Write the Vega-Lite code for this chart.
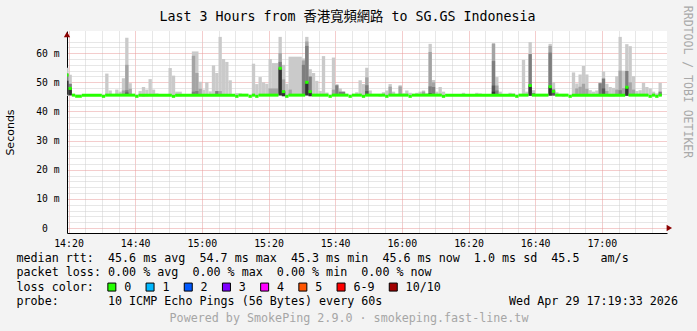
{
  "$schema": "https://vega.github.io/schema/vega-lite/v6.json",
  "width": 600,
  "height": 202,
  "autosize": {"type": "none"},
  "padding": {"left": 67, "top": 31, "right": 30, "bottom": 98},
  "background": "#f3f3f3",
  "config": {"view": {"fill": "white", "stroke": null}, "font": "DejaVu Sans Mono"},
  "resolve": {"axis": {"x": "independent", "y": "independent"}},
  "datasets": {
    "smoke": [
      {"t":"2026-04-29T14:19:33","e":"2026-04-29T14:20","lo":45.3,"hi":55.0,"s":1},
      {"t":"2026-04-29T14:20","e":"2026-04-29T14:21","lo":45.3,"hi":52.6,"s":1},
      {"t":"2026-04-29T14:31","e":"2026-04-29T14:32","lo":45.4,"hi":53.0,"s":1},
      {"t":"2026-04-29T14:32","e":"2026-04-29T14:33","lo":45.4,"hi":47.2,"s":1},
      {"t":"2026-04-29T14:34","e":"2026-04-29T14:35","lo":45.4,"hi":47.5,"s":1},
      {"t":"2026-04-29T14:35","e":"2026-04-29T14:36","lo":45.4,"hi":46.8,"s":1},
      {"t":"2026-04-29T14:36","e":"2026-04-29T14:37","lo":45.4,"hi":51.4,"s":1},
      {"t":"2026-04-29T14:37","e":"2026-04-29T14:38","lo":45.3,"hi":65.3,"s":1},
      {"t":"2026-04-29T14:38","e":"2026-04-29T14:39","lo":45.4,"hi":49.7,"s":1},
      {"t":"2026-04-29T14:41","e":"2026-04-29T14:42","lo":45.4,"hi":47.0,"s":1},
      {"t":"2026-04-29T14:42","e":"2026-04-29T14:43","lo":45.1,"hi":48.4,"s":1},
      {"t":"2026-04-29T14:43","e":"2026-04-29T14:44","lo":45.2,"hi":47.5,"s":1},
      {"t":"2026-04-29T14:44","e":"2026-04-29T14:45","lo":45.4,"hi":51.1,"s":1},
      {"t":"2026-04-29T14:45","e":"2026-04-29T14:46","lo":45.4,"hi":47.5,"s":1},
      {"t":"2026-04-29T14:46","e":"2026-04-29T14:47","lo":45.4,"hi":46.2,"s":1},
      {"t":"2026-04-29T14:50","e":"2026-04-29T14:51","lo":45.4,"hi":54.9,"s":1},
      {"t":"2026-04-29T14:51","e":"2026-04-29T14:52","lo":45.2,"hi":52.3,"s":1},
      {"t":"2026-04-29T14:52","e":"2026-04-29T14:54","lo":45.2,"hi":46.8,"s":1},
      {"t":"2026-04-29T14:57","e":"2026-04-29T14:59","lo":45.4,"hi":60.6,"s":1},
      {"t":"2026-04-29T14:59","e":"2026-04-29T15:00","lo":45.4,"hi":50.2,"s":1},
      {"t":"2026-04-29T15:00","e":"2026-04-29T15:01","lo":45.4,"hi":47.5,"s":1},
      {"t":"2026-04-29T15:01","e":"2026-04-29T15:02","lo":45.4,"hi":50.0,"s":1},
      {"t":"2026-04-29T15:02","e":"2026-04-29T15:03","lo":45.4,"hi":46.9,"s":1},
      {"t":"2026-04-29T15:03","e":"2026-04-29T15:04","lo":45.3,"hi":55.8,"s":1},
      {"t":"2026-04-29T15:04","e":"2026-04-29T15:05","lo":45.3,"hi":53.2,"s":1},
      {"t":"2026-04-29T15:05","e":"2026-04-29T15:06","lo":45.3,"hi":65.6,"s":1},
      {"t":"2026-04-29T15:06","e":"2026-04-29T15:07","lo":45.3,"hi":58.0,"s":1},
      {"t":"2026-04-29T15:07","e":"2026-04-29T15:08","lo":45.4,"hi":57.0,"s":1},
      {"t":"2026-04-29T15:08","e":"2026-04-29T15:09","lo":45.4,"hi":50.7,"s":1},
      {"t":"2026-04-29T15:10","e":"2026-04-29T15:11","lo":45.4,"hi":46.3,"s":1},
      {"t":"2026-04-29T15:11","e":"2026-04-29T15:12","lo":45.3,"hi":46.2,"s":1},
      {"t":"2026-04-29T15:15","e":"2026-04-29T15:16","lo":45.4,"hi":56.4,"s":1},
      {"t":"2026-04-29T15:16","e":"2026-04-29T15:17","lo":45.4,"hi":49.4,"s":1},
      {"t":"2026-04-29T15:17","e":"2026-04-29T15:18","lo":45.4,"hi":51.8,"s":1},
      {"t":"2026-04-29T15:18","e":"2026-04-29T15:19","lo":45.4,"hi":50.0,"s":1},
      {"t":"2026-04-29T15:19","e":"2026-04-29T15:20","lo":45.4,"hi":49.5,"s":1},
      {"t":"2026-04-29T15:20","e":"2026-04-29T15:21","lo":45.4,"hi":58.0,"s":1},
      {"t":"2026-04-29T15:21","e":"2026-04-29T15:23","lo":45.4,"hi":56.6,"s":1},
      {"t":"2026-04-29T15:23","e":"2026-04-29T15:24","lo":45.3,"hi":65.6,"s":1},
      {"t":"2026-04-29T15:24","e":"2026-04-29T15:25","lo":45.3,"hi":56.0,"s":1},
      {"t":"2026-04-29T15:25","e":"2026-04-29T15:26","lo":45.4,"hi":49.5,"s":1},
      {"t":"2026-04-29T15:26","e":"2026-04-29T15:30","lo":45.4,"hi":58.8,"s":1},
      {"t":"2026-04-29T15:30","e":"2026-04-29T15:31","lo":45.4,"hi":58.2,"s":1},
      {"t":"2026-04-29T15:31","e":"2026-04-29T15:32","lo":45.3,"hi":65.6,"s":1},
      {"t":"2026-04-29T15:32","e":"2026-04-29T15:33","lo":45.3,"hi":54.5,"s":1},
      {"t":"2026-04-29T15:33","e":"2026-04-29T15:34","lo":45.4,"hi":53.2,"s":1},
      {"t":"2026-04-29T15:34","e":"2026-04-29T15:35","lo":45.4,"hi":50.5,"s":1},
      {"t":"2026-04-29T15:35","e":"2026-04-29T15:36","lo":45.4,"hi":47.0,"s":1},
      {"t":"2026-04-29T15:36","e":"2026-04-29T15:37","lo":45.4,"hi":59.0,"s":1},
      {"t":"2026-04-29T15:37","e":"2026-04-29T15:38","lo":45.4,"hi":46.5,"s":1},
      {"t":"2026-04-29T15:39","e":"2026-04-29T15:40","lo":45.4,"hi":58.5,"s":1},
      {"t":"2026-04-29T15:40","e":"2026-04-29T15:41","lo":45.4,"hi":49.4,"s":1},
      {"t":"2026-04-29T15:41","e":"2026-04-29T15:42","lo":45.4,"hi":47.9,"s":1},
      {"t":"2026-04-29T15:42","e":"2026-04-29T15:43","lo":45.4,"hi":46.8,"s":1},
      {"t":"2026-04-29T15:46","e":"2026-04-29T15:47","lo":45.4,"hi":46.6,"s":1},
      {"t":"2026-04-29T15:47","e":"2026-04-29T15:48","lo":45.4,"hi":50.7,"s":1},
      {"t":"2026-04-29T15:48","e":"2026-04-29T15:49","lo":45.2,"hi":49.4,"s":1},
      {"t":"2026-04-29T15:49","e":"2026-04-29T15:50","lo":45.3,"hi":55.0,"s":1},
      {"t":"2026-04-29T15:50","e":"2026-04-29T15:51","lo":45.3,"hi":47.2,"s":1},
      {"t":"2026-04-29T15:53","e":"2026-04-29T15:54","lo":45.1,"hi":45.8,"s":1},
      {"t":"2026-04-29T15:54","e":"2026-04-29T15:55","lo":45.3,"hi":46.6,"s":1},
      {"t":"2026-04-29T15:55","e":"2026-04-29T15:56","lo":45.3,"hi":47.2,"s":1},
      {"t":"2026-04-29T15:56","e":"2026-04-29T15:57","lo":45.3,"hi":49.4,"s":1},
      {"t":"2026-04-29T15:57","e":"2026-04-29T15:58","lo":45.3,"hi":46.8,"s":1},
      {"t":"2026-04-29T15:59","e":"2026-04-29T16:00","lo":45.3,"hi":49.0,"s":1},
      {"t":"2026-04-29T16:00","e":"2026-04-29T16:01","lo":45.3,"hi":46.2,"s":1},
      {"t":"2026-04-29T16:01","e":"2026-04-29T16:02","lo":45.3,"hi":47.2,"s":1},
      {"t":"2026-04-29T16:02","e":"2026-04-29T16:03","lo":45.3,"hi":46.4,"s":1},
      {"t":"2026-04-29T16:04","e":"2026-04-29T16:05","lo":45.3,"hi":46.4,"s":1},
      {"t":"2026-04-29T16:05","e":"2026-04-29T16:06","lo":45.3,"hi":46.8,"s":1},
      {"t":"2026-04-29T16:06","e":"2026-04-29T16:07","lo":45.3,"hi":47.2,"s":1},
      {"t":"2026-04-29T16:07","e":"2026-04-29T16:08","lo":45.3,"hi":46.2,"s":1},
      {"t":"2026-04-29T16:08","e":"2026-04-29T16:09","lo":45.3,"hi":63.2,"s":1},
      {"t":"2026-04-29T16:09","e":"2026-04-29T16:10","lo":45.3,"hi":50.8,"s":1},
      {"t":"2026-04-29T16:10","e":"2026-04-29T16:11","lo":45.3,"hi":46.8,"s":1},
      {"t":"2026-04-29T16:11","e":"2026-04-29T16:12","lo":45.3,"hi":48.4,"s":1},
      {"t":"2026-04-29T16:12","e":"2026-04-29T16:13","lo":45.2,"hi":46.8,"s":1},
      {"t":"2026-04-29T16:18","e":"2026-04-29T16:19","lo":45.3,"hi":46.4,"s":1},
      {"t":"2026-04-29T16:22","e":"2026-04-29T16:23","lo":45.3,"hi":46.4,"s":1},
      {"t":"2026-04-29T16:23","e":"2026-04-29T16:24","lo":45.3,"hi":46.2,"s":1},
      {"t":"2026-04-29T16:27","e":"2026-04-29T16:28","lo":45.3,"hi":63.5,"s":1},
      {"t":"2026-04-29T16:28","e":"2026-04-29T16:29","lo":45.3,"hi":51.8,"s":1},
      {"t":"2026-04-29T16:29","e":"2026-04-29T16:30","lo":45.3,"hi":46.8,"s":1},
      {"t":"2026-04-29T16:32","e":"2026-04-29T16:33","lo":45.3,"hi":46.4,"s":1},
      {"t":"2026-04-29T16:33","e":"2026-04-29T16:34","lo":45.3,"hi":46.2,"s":1},
      {"t":"2026-04-29T16:36","e":"2026-04-29T16:37","lo":45.3,"hi":57.7,"s":1},
      {"t":"2026-04-29T16:37","e":"2026-04-29T16:38","lo":45.3,"hi":46.8,"s":1},
      {"t":"2026-04-29T16:38","e":"2026-04-29T16:39","lo":45.3,"hi":63.8,"s":1},
      {"t":"2026-04-29T16:39","e":"2026-04-29T16:40","lo":45.3,"hi":47.3,"s":1},
      {"t":"2026-04-29T16:44","e":"2026-04-29T16:45","lo":45.3,"hi":63.2,"s":1},
      {"t":"2026-04-29T16:45","e":"2026-04-29T16:46","lo":45.3,"hi":50.0,"s":1},
      {"t":"2026-04-29T16:46","e":"2026-04-29T16:47","lo":45.3,"hi":46.6,"s":1},
      {"t":"2026-04-29T16:48","e":"2026-04-29T16:49","lo":45.1,"hi":45.8,"s":1},
      {"t":"2026-04-29T16:51","e":"2026-04-29T16:52","lo":45.3,"hi":53.4,"s":1},
      {"t":"2026-04-29T16:52","e":"2026-04-29T16:53","lo":45.3,"hi":49.6,"s":1},
      {"t":"2026-04-29T16:53","e":"2026-04-29T16:54","lo":45.3,"hi":52.7,"s":1},
      {"t":"2026-04-29T16:54","e":"2026-04-29T16:55","lo":45.3,"hi":55.6,"s":1},
      {"t":"2026-04-29T16:55","e":"2026-04-29T16:56","lo":45.3,"hi":52.7,"s":1},
      {"t":"2026-04-29T16:56","e":"2026-04-29T16:57","lo":45.3,"hi":47.3,"s":1},
      {"t":"2026-04-29T16:57","e":"2026-04-29T16:58","lo":45.3,"hi":46.8,"s":1},
      {"t":"2026-04-29T16:58","e":"2026-04-29T16:59","lo":45.3,"hi":47.2,"s":1},
      {"t":"2026-04-29T16:59","e":"2026-04-29T17:00","lo":45.3,"hi":50.0,"s":1},
      {"t":"2026-04-29T17:00","e":"2026-04-29T17:01","lo":45.3,"hi":53.7,"s":1},
      {"t":"2026-04-29T17:01","e":"2026-04-29T17:02","lo":45.3,"hi":49.5,"s":1},
      {"t":"2026-04-29T17:02","e":"2026-04-29T17:03","lo":45.2,"hi":48.4,"s":1},
      {"t":"2026-04-29T17:03","e":"2026-04-29T17:04","lo":45.2,"hi":48.1,"s":1},
      {"t":"2026-04-29T17:04","e":"2026-04-29T17:05","lo":45.3,"hi":52.1,"s":1},
      {"t":"2026-04-29T17:05","e":"2026-04-29T17:06","lo":45.3,"hi":65.6,"s":1},
      {"t":"2026-04-29T17:06","e":"2026-04-29T17:07","lo":45.3,"hi":54.0,"s":1},
      {"t":"2026-04-29T17:07","e":"2026-04-29T17:08","lo":45.3,"hi":63.1,"s":1},
      {"t":"2026-04-29T17:08","e":"2026-04-29T17:09","lo":45.3,"hi":62.4,"s":1},
      {"t":"2026-04-29T17:09","e":"2026-04-29T17:10","lo":45.3,"hi":52.1,"s":1},
      {"t":"2026-04-29T17:10","e":"2026-04-29T17:11","lo":45.3,"hi":47.0,"s":1},
      {"t":"2026-04-29T17:11","e":"2026-04-29T17:12","lo":45.3,"hi":47.3,"s":1},
      {"t":"2026-04-29T17:12","e":"2026-04-29T17:13","lo":45.3,"hi":49.8,"s":1},
      {"t":"2026-04-29T17:13","e":"2026-04-29T17:14","lo":45.3,"hi":48.4,"s":1},
      {"t":"2026-04-29T17:14","e":"2026-04-29T17:15","lo":45.3,"hi":47.9,"s":1},
      {"t":"2026-04-29T17:15","e":"2026-04-29T17:16","lo":45.3,"hi":46.8,"s":1},
      {"t":"2026-04-29T17:16","e":"2026-04-29T17:17","lo":45.3,"hi":46.2,"s":1},
      {"t":"2026-04-29T17:17","e":"2026-04-29T17:18","lo":45.3,"hi":49.8,"s":1},
      {"t":"2026-04-29T14:36","e":"2026-04-29T14:37","lo":45.5,"hi":47.2,"s":2},
      {"t":"2026-04-29T14:37","e":"2026-04-29T14:38","lo":45.4,"hi":56.0,"s":2},
      {"t":"2026-04-29T14:38","e":"2026-04-29T14:39","lo":45.5,"hi":47.8,"s":2},
      {"t":"2026-04-29T14:57","e":"2026-04-29T14:58","lo":45.5,"hi":59.1,"s":2},
      {"t":"2026-04-29T14:58","e":"2026-04-29T14:59","lo":45.5,"hi":53.2,"s":2},
      {"t":"2026-04-29T14:59","e":"2026-04-29T15:00","lo":45.5,"hi":47.8,"s":2},
      {"t":"2026-04-29T15:05","e":"2026-04-29T15:06","lo":45.9,"hi":47.0,"s":2},
      {"t":"2026-04-29T15:20","e":"2026-04-29T15:23","lo":45.6,"hi":47.9,"s":2},
      {"t":"2026-04-29T15:23","e":"2026-04-29T15:24","lo":45.4,"hi":60.0,"s":2},
      {"t":"2026-04-29T15:24","e":"2026-04-29T15:25","lo":45.4,"hi":51.0,"s":2},
      {"t":"2026-04-29T15:26","e":"2026-04-29T15:27","lo":45.5,"hi":47.5,"s":2},
      {"t":"2026-04-29T15:30","e":"2026-04-29T15:31","lo":45.5,"hi":57.5,"s":2},
      {"t":"2026-04-29T15:31","e":"2026-04-29T15:32","lo":45.4,"hi":64.0,"s":2},
      {"t":"2026-04-29T15:39","e":"2026-04-29T15:40","lo":45.5,"hi":47.5,"s":2},
      {"t":"2026-04-29T15:49","e":"2026-04-29T15:50","lo":45.4,"hi":51.7,"s":2},
      {"t":"2026-04-29T15:56","e":"2026-04-29T15:57","lo":45.5,"hi":48.5,"s":2},
      {"t":"2026-04-29T15:59","e":"2026-04-29T16:00","lo":45.5,"hi":48.6,"s":2},
      {"t":"2026-04-29T16:06","e":"2026-04-29T16:07","lo":45.4,"hi":46.8,"s":2},
      {"t":"2026-04-29T16:08","e":"2026-04-29T16:09","lo":45.4,"hi":60.4,"s":2},
      {"t":"2026-04-29T16:09","e":"2026-04-29T16:10","lo":45.4,"hi":50.0,"s":2},
      {"t":"2026-04-29T16:27","e":"2026-04-29T16:28","lo":45.4,"hi":63.2,"s":2},
      {"t":"2026-04-29T16:28","e":"2026-04-29T16:29","lo":45.4,"hi":48.9,"s":2},
      {"t":"2026-04-29T16:44","e":"2026-04-29T16:45","lo":45.4,"hi":62.5,"s":2},
      {"t":"2026-04-29T16:45","e":"2026-04-29T16:46","lo":45.4,"hi":47.8,"s":2},
      {"t":"2026-04-29T16:52","e":"2026-04-29T16:53","lo":45.4,"hi":47.9,"s":2},
      {"t":"2026-04-29T16:53","e":"2026-04-29T16:54","lo":45.4,"hi":48.5,"s":2},
      {"t":"2026-04-29T16:54","e":"2026-04-29T16:55","lo":45.4,"hi":49.5,"s":2},
      {"t":"2026-04-29T16:55","e":"2026-04-29T16:56","lo":45.4,"hi":47.8,"s":2},
      {"t":"2026-04-29T17:01","e":"2026-04-29T17:02","lo":45.4,"hi":47.0,"s":2},
      {"t":"2026-04-29T17:04","e":"2026-04-29T17:05","lo":45.4,"hi":47.5,"s":2},
      {"t":"2026-04-29T17:05","e":"2026-04-29T17:06","lo":45.4,"hi":54.0,"s":2},
      {"t":"2026-04-29T17:06","e":"2026-04-29T17:07","lo":45.4,"hi":48.0,"s":2},
      {"t":"2026-04-29T17:08","e":"2026-04-29T17:09","lo":45.4,"hi":50.0,"s":2},
      {"t":"2026-04-29T17:09","e":"2026-04-29T17:10","lo":45.4,"hi":47.5,"s":2},
      {"t":"2026-04-29T14:19:33","e":"2026-04-29T14:20","lo":45.5,"hi":53.0,"s":3},
      {"t":"2026-04-29T14:20","e":"2026-04-29T14:21","lo":45.5,"hi":49.5,"s":3},
      {"t":"2026-04-29T14:37","e":"2026-04-29T14:38","lo":45.5,"hi":47.3,"s":3},
      {"t":"2026-04-29T14:57","e":"2026-04-29T14:58","lo":45.6,"hi":46.8,"s":3},
      {"t":"2026-04-29T14:58","e":"2026-04-29T14:59","lo":45.6,"hi":47.0,"s":3},
      {"t":"2026-04-29T15:04","e":"2026-04-29T15:05","lo":45.9,"hi":47.0,"s":3},
      {"t":"2026-04-29T15:23","e":"2026-04-29T15:24","lo":45.5,"hi":57.0,"s":3},
      {"t":"2026-04-29T15:30","e":"2026-04-29T15:31","lo":45.6,"hi":56.0,"s":3},
      {"t":"2026-04-29T15:31","e":"2026-04-29T15:32","lo":45.5,"hi":62.5,"s":3},
      {"t":"2026-04-29T15:32","e":"2026-04-29T15:33","lo":45.4,"hi":52.0,"s":3},
      {"t":"2026-04-29T15:40","e":"2026-04-29T15:41","lo":45.5,"hi":49.0,"s":3},
      {"t":"2026-04-29T15:41","e":"2026-04-29T15:43","lo":45.5,"hi":46.8,"s":3},
      {"t":"2026-04-29T15:49","e":"2026-04-29T15:50","lo":45.5,"hi":49.0,"s":3},
      {"t":"2026-04-29T16:08","e":"2026-04-29T16:09","lo":45.5,"hi":48.6,"s":3},
      {"t":"2026-04-29T16:09","e":"2026-04-29T16:10","lo":45.5,"hi":48.4,"s":3},
      {"t":"2026-04-29T16:27","e":"2026-04-29T16:28","lo":45.5,"hi":57.3,"s":3},
      {"t":"2026-04-29T16:28","e":"2026-04-29T16:29","lo":45.5,"hi":47.2,"s":3},
      {"t":"2026-04-29T16:38","e":"2026-04-29T16:39","lo":45.4,"hi":59.7,"s":3},
      {"t":"2026-04-29T16:39","e":"2026-04-29T16:40","lo":45.4,"hi":46.3,"s":3},
      {"t":"2026-04-29T16:44","e":"2026-04-29T16:45","lo":45.4,"hi":60.2,"s":3},
      {"t":"2026-04-29T16:59","e":"2026-04-29T17:00","lo":45.4,"hi":49.7,"s":3},
      {"t":"2026-04-29T17:00","e":"2026-04-29T17:01","lo":45.4,"hi":51.3,"s":3},
      {"t":"2026-04-29T17:05","e":"2026-04-29T17:06","lo":45.5,"hi":47.3,"s":3},
      {"t":"2026-04-29T17:07","e":"2026-04-29T17:08","lo":45.4,"hi":53.9,"s":3},
      {"t":"2026-04-29T17:17","e":"2026-04-29T17:18","lo":45.4,"hi":46.8,"s":3},
      {"t":"2026-04-29T14:37","e":"2026-04-29T14:38","lo":45.6,"hi":46.5,"s":4},
      {"t":"2026-04-29T15:24","e":"2026-04-29T15:25","lo":45.5,"hi":47.0,"s":4},
      {"t":"2026-04-29T15:49","e":"2026-04-29T15:50","lo":45.6,"hi":47.0,"s":4},
      {"t":"2026-04-29T16:27","e":"2026-04-29T16:28","lo":45.5,"hi":48.9,"s":4},
      {"t":"2026-04-29T16:45","e":"2026-04-29T16:46","lo":45.5,"hi":47.0,"s":4},
      {"t":"2026-04-29T17:00","e":"2026-04-29T17:01","lo":45.5,"hi":47.9,"s":4},
      {"t":"2026-04-29T14:19:33","e":"2026-04-29T14:20","lo":45.8,"hi":50.5,"s":5},
      {"t":"2026-04-29T14:20","e":"2026-04-29T14:21","lo":45.6,"hi":48.0,"s":5},
      {"t":"2026-04-29T15:23","e":"2026-04-29T15:24","lo":45.6,"hi":54.8,"s":5},
      {"t":"2026-04-29T15:24","e":"2026-04-29T15:25","lo":45.2,"hi":46.8,"s":5},
      {"t":"2026-04-29T15:31","e":"2026-04-29T15:32","lo":45.6,"hi":50.0,"s":5},
      {"t":"2026-04-29T15:32","e":"2026-04-29T15:33","lo":45.2,"hi":46.8,"s":5},
      {"t":"2026-04-29T16:08","e":"2026-04-29T16:09","lo":45.6,"hi":46.2,"s":5},
      {"t":"2026-04-29T16:27","e":"2026-04-29T16:28","lo":45.5,"hi":46.8,"s":5},
      {"t":"2026-04-29T16:38","e":"2026-04-29T16:39","lo":45.4,"hi":48.9,"s":5},
      {"t":"2026-04-29T16:44","e":"2026-04-29T16:45","lo":45.5,"hi":48.5,"s":5},
      {"t":"2026-04-29T17:07","e":"2026-04-29T17:08","lo":45.4,"hi":48.3,"s":5}
    ],
    "med": [
      {"t":"2026-04-29T14:19:33","e":"2026-04-29T14:20","m":52.5,"loss":"0"},
      {"t":"2026-04-29T14:20","e":"2026-04-29T14:21","m":47.9,"loss":"0"},
      {"t":"2026-04-29T14:21","e":"2026-04-29T14:22","m":45.6,"loss":"0"},
      {"t":"2026-04-29T14:22","e":"2026-04-29T14:24","m":45.2,"loss":"0"},
      {"t":"2026-04-29T14:24","e":"2026-04-29T14:30","m":45.6,"loss":"0"},
      {"t":"2026-04-29T14:30","e":"2026-04-29T14:31","m":45.2,"loss":"0"},
      {"t":"2026-04-29T14:31","e":"2026-04-29T14:40","m":45.6,"loss":"0"},
      {"t":"2026-04-29T14:40","e":"2026-04-29T14:41","m":45.2,"loss":"0"},
      {"t":"2026-04-29T14:41","e":"2026-04-29T14:51","m":45.6,"loss":"0"},
      {"t":"2026-04-29T14:51","e":"2026-04-29T14:52","m":45.2,"loss":"0"},
      {"t":"2026-04-29T14:52","e":"2026-04-29T15:10","m":45.6,"loss":"0"},
      {"t":"2026-04-29T15:10","e":"2026-04-29T15:11","m":45.2,"loss":"0"},
      {"t":"2026-04-29T15:11","e":"2026-04-29T15:14","m":45.6,"loss":"0"},
      {"t":"2026-04-29T15:14","e":"2026-04-29T15:15","m":45.2,"loss":"0"},
      {"t":"2026-04-29T15:15","e":"2026-04-29T15:16","m":45.6,"loss":"0"},
      {"t":"2026-04-29T15:16","e":"2026-04-29T15:17","m":45.2,"loss":"0"},
      {"t":"2026-04-29T15:17","e":"2026-04-29T15:23","m":45.6,"loss":"0"},
      {"t":"2026-04-29T15:23","e":"2026-04-29T15:24","m":54.8,"loss":"0"},
      {"t":"2026-04-29T15:24","e":"2026-04-29T15:25","m":46.8,"loss":"0"},
      {"t":"2026-04-29T15:25","e":"2026-04-29T15:26","m":45.2,"loss":"0"},
      {"t":"2026-04-29T15:26","e":"2026-04-29T15:31","m":45.6,"loss":"0"},
      {"t":"2026-04-29T15:31","e":"2026-04-29T15:32","m":50.0,"loss":"0"},
      {"t":"2026-04-29T15:32","e":"2026-04-29T15:33","m":46.8,"loss":"0"},
      {"t":"2026-04-29T15:33","e":"2026-04-29T15:38","m":45.6,"loss":"0"},
      {"t":"2026-04-29T15:38","e":"2026-04-29T15:39","m":45.2,"loss":"0"},
      {"t":"2026-04-29T15:39","e":"2026-04-29T15:44","m":45.6,"loss":"0"},
      {"t":"2026-04-29T15:44","e":"2026-04-29T15:45","m":45.2,"loss":"0"},
      {"t":"2026-04-29T15:45","e":"2026-04-29T15:48","m":45.6,"loss":"0"},
      {"t":"2026-04-29T15:48","e":"2026-04-29T15:49","m":45.2,"loss":"0"},
      {"t":"2026-04-29T15:49","e":"2026-04-29T15:55","m":45.6,"loss":"0"},
      {"t":"2026-04-29T15:55","e":"2026-04-29T15:56","m":45.2,"loss":"0"},
      {"t":"2026-04-29T15:56","e":"2026-04-29T16:02","m":45.6,"loss":"0"},
      {"t":"2026-04-29T16:02","e":"2026-04-29T16:03","m":45.2,"loss":"0"},
      {"t":"2026-04-29T16:03","e":"2026-04-29T16:12","m":45.6,"loss":"0"},
      {"t":"2026-04-29T16:12","e":"2026-04-29T16:13","m":45.2,"loss":"0"},
      {"t":"2026-04-29T16:13","e":"2026-04-29T16:34","m":45.6,"loss":"0"},
      {"t":"2026-04-29T16:34","e":"2026-04-29T16:35","m":45.2,"loss":"0"},
      {"t":"2026-04-29T16:35","e":"2026-04-29T16:38","m":45.6,"loss":"0"},
      {"t":"2026-04-29T16:38","e":"2026-04-29T16:39","m":48.9,"loss":"0"},
      {"t":"2026-04-29T16:39","e":"2026-04-29T16:44","m":45.6,"loss":"0"},
      {"t":"2026-04-29T16:44","e":"2026-04-29T16:45","m":48.5,"loss":"0"},
      {"t":"2026-04-29T16:45","e":"2026-04-29T16:46","m":46.9,"loss":"0"},
      {"t":"2026-04-29T16:46","e":"2026-04-29T16:50","m":45.6,"loss":"0"},
      {"t":"2026-04-29T16:50","e":"2026-04-29T16:51","m":45.2,"loss":"0"},
      {"t":"2026-04-29T16:51","e":"2026-04-29T17:07","m":45.6,"loss":"0"},
      {"t":"2026-04-29T17:07","e":"2026-04-29T17:08","m":48.3,"loss":"0"},
      {"t":"2026-04-29T17:08","e":"2026-04-29T17:14","m":45.6,"loss":"0"},
      {"t":"2026-04-29T17:14","e":"2026-04-29T17:15","m":45.2,"loss":"0"},
      {"t":"2026-04-29T17:15","e":"2026-04-29T17:16","m":45.6,"loss":"0"},
      {"t":"2026-04-29T17:16","e":"2026-04-29T17:17","m":45.2,"loss":"0"},
      {"t":"2026-04-29T17:17","e":"2026-04-29T17:18","m":45.6,"loss":"0"}
    ]
  },
  "layer": [
    {
      "data": {"name": "smoke"},
      "mark": {"type": "rect"},
      "encoding": {
        "x": {
          "field": "t", "type": "temporal",
          "scale": {"domain": [{"year": 2026, "month": 4, "date": 29, "hours": 14, "minutes": 19, "seconds": 33}, {"year": 2026, "month": 4, "date": 29, "hours": 17, "minutes": 19, "seconds": 33}], "nice": false},
          "axis": {
            "orient": "bottom",
            "tickCount": 36,
            "labelExpr": "indexof(['00','20','40'], timeFormat(datum.value, '%M')) >= 0 ? timeFormat(datum.value, '%H:%M') : ''",
            "labelFont": "DejaVu Sans Mono", "labelFontSize": 9.9, "labelColor": "black", "labelPadding": 5,
            "labelOverlap": false, "labelFlush": false,
            "ticks": false,
            "grid": true,
            "gridColor": {"condition": {"test": "indexof(['00','20','40'], timeFormat(datum.value, '%M')) >= 0", "value": "#e89a9a"}, "value": "#cfcfcf"},
            "gridDash": [1, 1], "gridWidth": 1, "gridOpacity": 1,
            "domainColor": "black", "domainWidth": 1,
            "title": [
              "median rtt:\u00a0\u00a045.6 ms avg\u00a0\u00a054.7 ms max\u00a0\u00a045.3 ms min\u00a0\u00a045.6 ms now\u00a0\u00a01.0 ms sd\u00a0\u00a045.5\u00a0\u00a0\u00a0am/s",
              "packet loss: 0.00 % avg\u00a0\u00a00.00 % max\u00a0\u00a00.00 % min\u00a0\u00a00.00 % now",
              "loss color:",
              "probe:\u00a0\u00a0\u00a0\u00a0\u00a0\u00a0\u00a010 ICMP Echo Pings (56 Bytes) every 60s\u00a0\u00a0\u00a0\u00a0\u00a0\u00a0\u00a0\u00a0\u00a0\u00a0\u00a0\u00a0\u00a0\u00a0\u00a0\u00a0\u00a0\u00a0Wed Apr 29 17:19:33 2026"
            ],
            "titleFont": "DejaVu Sans Mono", "titleFontSize": 11.7, "titleFontWeight": "normal", "titleColor": "black",
            "titleAlign": "left", "titleX": -51, "titleY": 19.3, "titleBaseline": "top", "titleLineHeight": 14.5
          }
        },
        "x2": {"field": "e"},
        "y": {
          "field": "lo", "type": "quantitative",
          "scale": {"domain": [0, 65.9], "nice": false, "zero": false},
          "axis": {
            "orient": "left",
            "values": [0, 2, 4, 6, 8, 10, 12, 14, 16, 18, 20, 22, 24, 26, 28, 30, 32, 34, 36, 38, 40, 42, 44, 46, 48, 50, 52, 54, 56, 58, 60, 62, 64],
            "labelExpr": "datum.value % 10 == 0 ? (datum.value == 0 ? '0\u00a0\u00a0\u200b' : datum.value + ' m') : ''",
            "labelFont": "DejaVu Sans Mono", "labelFontSize": 9.7, "labelColor": "black", "labelPadding": 8,
            "labelOverlap": false, "labelFlush": false,
            "ticks": false,
            "grid": true,
            "gridColor": {"condition": {"test": "datum.value % 10 == 0", "value": "#e89a9a"}, "value": "#cfcfcf"},
            "gridDash": [1, 1], "gridWidth": 1, "gridOpacity": 1,
            "domainColor": "black", "domainWidth": 1,
            "title": "Seconds", "titleFont": "DejaVu Sans", "titleFontSize": 11, "titleFontWeight": "normal", "titleColor": "black",
            "titleAngle": -90, "titleX": -56.5, "titleY": 101, "titleAlign": "center", "titleBaseline": "middle"
          }
        },
        "y2": {"field": "hi"},
        "fill": {
          "field": "s", "type": "ordinal",
          "scale": {"domain": [1, 2, 3, 4, 5], "range": ["#cacaca", "#a4a4a4", "#7e7e7e", "#585858", "#323232"]},
          "legend": null
        }
      }
    },
    {
      "data": {"name": "med"},
      "mark": {"type": "bar", "height": 3},
      "encoding": {
        "x": {
          "field": "t", "type": "temporal",
          "scale": {"domain": [{"year": 2026, "month": 4, "date": 29, "hours": 14, "minutes": 19, "seconds": 33}, {"year": 2026, "month": 4, "date": 29, "hours": 17, "minutes": 19, "seconds": 33}], "nice": false},
          "axis": {
            "orient": "top", "labels": false, "ticks": false, "domain": false, "grid": false,
            "title": "Last 3 Hours from 香港寬頻網路 to SG.GS Indonesia",
            "titleFont": "DejaVu Sans Mono, Noto Sans CJK TC", "titleFontSize": 13.3, "titleFontWeight": "normal", "titleColor": "black",
            "titleX": 280, "titleY": -11, "titleAlign": "center", "titleBaseline": "alphabetic"
          }
        },
        "x2": {"field": "e"},
        "y": {
          "field": "m", "type": "quantitative",
          "scale": {"domain": [0, 65.9], "nice": false, "zero": false},
          "axis": {
            "orient": "right", "labels": false, "ticks": false, "domain": false, "grid": false,
            "title": "RRDTOOL / TOBI OETIKER",
            "titleFont": "DejaVu Sans Mono", "titleFontSize": 11.5, "titleFontWeight": "normal", "titleColor": "#a9a9a9",
            "titleAngle": 90, "titleX": 19, "titleY": 50.5, "titleAlign": "center", "titleBaseline": "middle"
          }
        },
        "color": {
          "field": "loss", "type": "nominal",
          "scale": {"domain": ["0", "1", "2", "3", "4", "5", "6-9", "10/10"], "range": ["#26ff00", "#00b8ff", "#0059ff", "#7e00ff", "#ff00ff", "#ff5500", "#ff0000", "#a10000"]},
          "legend": {
            "orient": "none", "legendX": 39, "legendY": 250, "direction": "horizontal",
            "title": null, "padding": 0,
            "labelFont": "DejaVu Sans Mono", "labelFontSize": 11.7, "labelColor": "black", "labelOffset": 6.5,
            "symbolType": "square", "symbolSize": 64, "symbolStrokeColor": "black", "symbolStrokeWidth": 1, "symbolOpacity": 1,
            "columnPadding": 11.2
          }
        }
      }
    },
    {
      "data": {"values": [{}]},
      "mark": {"type": "point", "shape": "triangle-right", "filled": true, "size": 40, "color": "#8b0000", "opacity": 1},
      "encoding": {
        "x": {
          "datum": {"year": 2026, "month": 4, "date": 29, "hours": 17, "minutes": 20, "seconds": 15}, "type": "temporal",
          "scale": {"domain": [{"year": 2026, "month": 4, "date": 29, "hours": 14, "minutes": 19, "seconds": 33}, {"year": 2026, "month": 4, "date": 29, "hours": 17, "minutes": 19, "seconds": 33}], "nice": false},
          "axis": {
            "orient": "bottom", "labels": false, "ticks": false, "domain": false, "grid": false,
            "title": "Powered by SmokePing 2.9.0 · smokeping.fast-line.tw",
            "titleFont": "DejaVu Sans Mono", "titleFontSize": 11.7, "titleFontWeight": "normal", "titleColor": "#a6a6a6",
            "titleX": 281.5, "titleY": 88.5, "titleAlign": "center", "titleBaseline": "alphabetic"
          }
        },
        "y": {"datum": 0, "type": "quantitative", "scale": {"domain": [0, 65.9], "nice": false, "zero": false}, "axis": null}
      }
    },
    {
      "data": {"values": [{}]},
      "mark": {"type": "point", "shape": "triangle-up", "filled": true, "size": 40, "color": "#8b0000", "opacity": 1},
      "encoding": {
        "x": {
          "datum": {"year": 2026, "month": 4, "date": 29, "hours": 14, "minutes": 19, "seconds": 33}, "type": "temporal",
          "scale": {"domain": [{"year": 2026, "month": 4, "date": 29, "hours": 14, "minutes": 19, "seconds": 33}, {"year": 2026, "month": 4, "date": 29, "hours": 17, "minutes": 19, "seconds": 33}], "nice": false},
          "axis": null
        },
        "y": {"datum": 66.4, "type": "quantitative", "scale": {"domain": [0, 65.9], "nice": false, "zero": false}, "axis": null}
      }
    }
  ]
}
